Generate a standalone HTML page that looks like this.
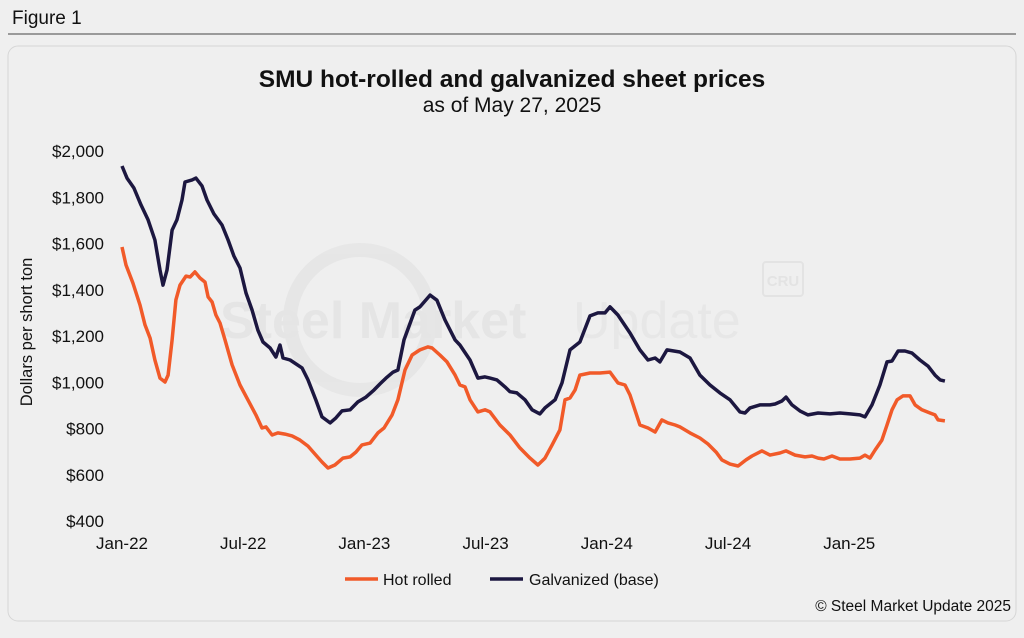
<!DOCTYPE html>
<html><head><meta charset="utf-8"><style>
html,body{margin:0;padding:0;background:#efefef;}
body{width:1024px;height:633px;position:relative;overflow:hidden;font-family:"Liberation Sans",Arial,sans-serif;}
</style></head><body>
<svg id="chart" width="1024" height="633" viewBox="0 0 1024 633" xmlns="http://www.w3.org/2000/svg" font-family="Liberation Sans, Arial, sans-serif">
<rect width="1024" height="633" fill="#efefef"/>
<text x="12" y="24" font-size="19" fill="#111">Figure 1</text>
<line x1="8" y1="34" x2="1016" y2="34" stroke="#444" stroke-width="1"/>
<rect x="8" y="46" width="1008" height="575" rx="10" fill="#efefef" stroke="#d6d6d6"/>
<text x="512" y="87" font-size="24.5" font-weight="bold" text-anchor="middle" fill="#111">SMU hot-rolled and galvanized sheet prices</text>
<text x="512" y="112" font-size="21" text-anchor="middle" fill="#111">as of May 27, 2025</text>
<g opacity="0.9">
<circle cx="360" cy="320" r="70" fill="none" stroke="#e6e6e6" stroke-width="14"/>
<text x="220" y="338" font-size="52" font-weight="bold" fill="#e4e4e4">Steel Market</text>
<text x="573" y="338" font-size="52" fill="#e7e7e7">Update</text>
<rect x="763" y="262" width="40" height="34" rx="3" fill="none" stroke="#e2e2e2" stroke-width="2"/>
<text x="783" y="286" font-size="15" font-weight="bold" text-anchor="middle" fill="#e2e2e2">CRU</text>
</g>
<text transform="translate(32,332) rotate(-90)" font-size="16.5" text-anchor="middle" fill="#111">Dollars per short ton</text>
<g id="yticks"></g><g id="xticks"></g><g id="series"></g>
<g>
<g><line x1="345" y1="579" x2="378" y2="579" stroke="#f15a29" stroke-width="3.5"/><text x="383" y="585" font-size="16" fill="#111">Hot rolled</text></g>
<g><line x1="490" y1="579" x2="523" y2="579" stroke="#1c1740" stroke-width="3.5"/><text x="529" y="585" font-size="16" fill="#111">Galvanized (base)</text></g>
</g>
<text x="1011" y="611" font-size="15.5" text-anchor="end" fill="#111">© Steel Market Update 2025</text>
</svg>
<script>
const yTicks=[400,600,800,1000,1200,1400,1600,1800,2000];
const xTickLabels=["Jan-22","Jul-22","Jan-23","Jul-23","Jan-24","Jul-24","Jan-25"];
const xTickMonths=[0,6,12,18,24,30,36];
const galvMonths=[0,0.25,0.59,0.94,1.29,1.63,1.88,2.03,2.23,2.48,2.72,2.97,3.12,3.47,3.66,3.96,4.21,4.55,4.95,5.25,5.54,5.84,6.14,6.44,6.73,6.98,7.33,7.62,7.82,7.97,8.32,8.91,9.21,9.6,9.9,10.3,10.59,10.89,11.29,11.68,12.08,12.48,12.77,13.07,13.42,13.66,13.96,14.5,14.75,15.25,15.59,15.99,16.49,16.73,17.23,17.62,17.97,18.22,18.56,18.96,19.21,19.55,19.95,20.3,20.69,20.94,21.44,21.78,22.18,22.67,23.17,23.56,23.91,24.16,24.55,25.15,25.64,26.04,26.39,26.63,26.98,27.62,28.12,28.61,29.11,29.6,30.1,30.59,30.84,31.09,31.58,32.08,32.33,32.67,32.87,33.17,33.56,33.96,34.46,35.05,35.54,36.04,36.53,36.78,37.13,37.52,37.87,38.12,38.42,38.76,39.11,39.5,39.9,40.25,40.5,40.74];
const galvValues=[1935,1883,1840,1767,1702,1615,1485,1420,1485,1658,1702,1788,1866,1875,1883,1849,1788,1728,1680,1615,1546,1494,1386,1312,1225,1174,1148,1109,1161,1105,1096,1062,1010,923,850,824,846,876,881,915,936,967,993,1018,1044,1053,1183,1312,1326,1377,1355,1269,1183,1161,1096,1018,1023,1018,1010,980,959,954,924,881,863,889,924,997,1140,1174,1287,1300,1300,1326,1291,1213,1140,1096,1105,1088,1140,1131,1105,1031,988,954,924,872,867,889,902,902,906,919,936,902,876,859,867,863,867,863,859,850,902,988,1088,1092,1135,1135,1126,1096,1070,1031,1010,1005];
const hrMonths=[0,0.2,0.54,0.89,1.14,1.39,1.63,1.88,2.13,2.28,2.48,2.67,2.87,3.17,3.37,3.61,3.86,4.11,4.26,4.46,4.65,4.85,5.1,5.45,5.84,6.24,6.63,6.93,7.13,7.43,7.72,8.07,8.42,8.81,9.21,9.6,9.9,10.2,10.54,10.94,11.29,11.58,11.88,12.28,12.67,12.97,13.37,13.66,14.01,14.36,14.75,15.15,15.35,15.74,16.09,16.49,16.73,16.98,17.23,17.62,17.97,18.22,18.71,19.21,19.7,20.2,20.59,20.94,21.29,21.68,21.93,22.18,22.43,22.67,23.17,23.66,24.16,24.55,24.9,25.15,25.64,26.04,26.39,26.73,27.03,27.38,27.62,28.12,28.61,29.01,29.41,29.7,30.1,30.5,30.89,31.19,31.68,32.08,32.57,32.87,33.32,33.81,34.16,34.46,34.75,35.15,35.54,36.04,36.53,36.78,37.03,37.28,37.62,37.87,38.12,38.37,38.66,39.01,39.26,39.6,40,40.25,40.4,40.74];
const hrValues=[1585,1507,1429,1334,1248,1191,1096,1018,1001,1031,1183,1356,1420,1459,1455,1477,1451,1433,1369,1347,1291,1256,1183,1075,988,923,859,802,807,772,781,776,768,750,724,685,655,629,642,672,677,698,729,737,781,802,859,924,1053,1118,1140,1153,1148,1118,1088,1031,988,980,924,872,881,872,815,772,716,672,642,672,729,794,924,932,967,1031,1040,1040,1044,997,988,945,815,802,785,837,824,815,807,781,759,733,698,664,646,638,664,681,703,685,694,703,685,677,681,672,668,681,668,668,672,685,672,707,750,815,881,924,941,941,902,881,867,859,837,833];
const X0=122,PX_PER_MONTH=20.2,Y0=521,PX_PER_DOLLAR=370/1600;
const xs=m=>X0+m*PX_PER_MONTH;
const ys=v=>Y0-(v-400)*PX_PER_DOLLAR;
const NS="http://www.w3.org/2000/svg";
const yg=document.getElementById('yticks');
yTicks.forEach(v=>{const t=document.createElementNS(NS,'text');


t.setAttribute('x',104);t.setAttribute('y',ys(v)+6);t.setAttribute('text-anchor','end');t.setAttribute('font-size','17');t.setAttribute('fill','#111');
t.textContent='$'+v.toLocaleString('en-US');yg.appendChild(t);});
const xg=document.getElementById('xticks');
xTickLabels.forEach((l,i)=>{const t=document.createElementNS(NS,'text');


t.setAttribute('x',xs(xTickMonths[i]));t.setAttribute('y',549);t.setAttribute('text-anchor','middle');t.setAttribute('font-size','17');t.setAttribute('fill','#111');
t.textContent=l;xg.appendChild(t);});
const sg=document.getElementById('series');
function line(ms,vs,color,name){const p=document.createElementNS(NS,'path');


p.setAttribute('d',ms.map((m,i)=>(i?'L':'M')+xs(m).toFixed(1)+','+ys(vs[i]).toFixed(1)).join(''));
p.setAttribute('fill','none');p.setAttribute('stroke',color);p.setAttribute('stroke-width','3.5');p.setAttribute('stroke-linejoin','round');
sg.appendChild(p);}
line(hrMonths,hrValues,'#f15a29','hot-rolled-line');
line(galvMonths,galvValues,'#1c1740','galvanized-line');
</script>
</body></html>
